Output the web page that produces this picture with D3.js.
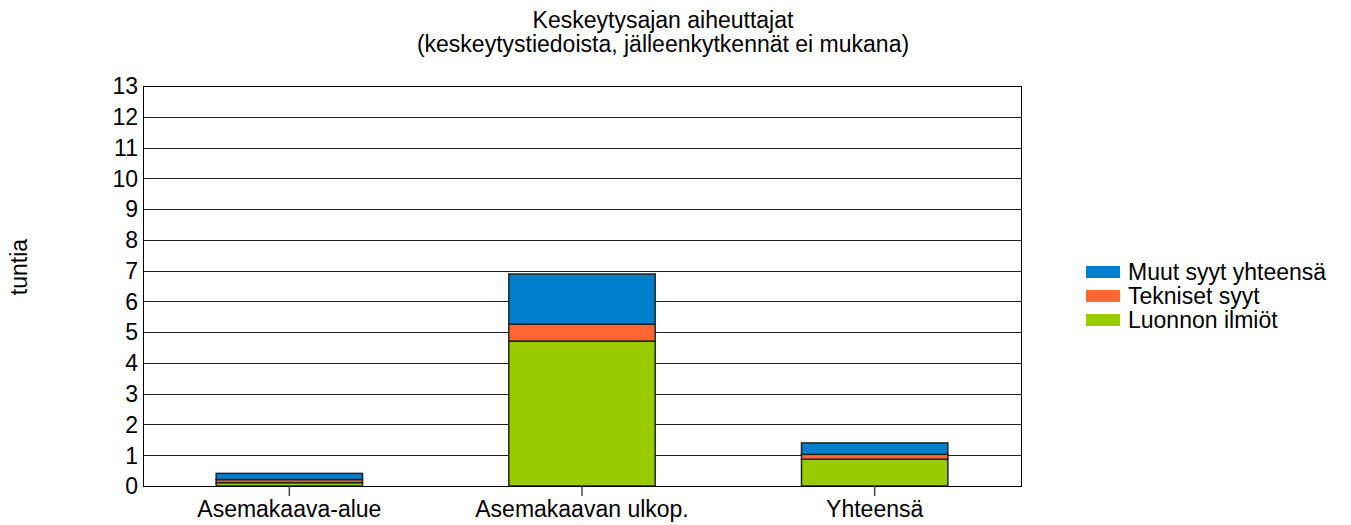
<!DOCTYPE html>
<html>
<head>
<meta charset="utf-8">
<script src="https://cdn.jsdelivr.net/npm/d3@7"></script>
<style>
  body { margin: 0; background: #fff; }
  text { font-family: "Liberation Sans", Arial, sans-serif; fill: #000; }
</style>
</head>
<body>
<div id="chart"></div>
<script>
// Chart data
var categories = ['Asemakaava-alue', 'Asemakaavan ulkop.', 'Yhteensä'];
var seriesNames = ['Luonnon ilmiöt', 'Tekniset syyt', 'Muut syyt yhteensä'];
var luonnon = [0.11, 4.71, 0.87];
var tekniset = [0.10, 0.55, 0.16];
var muut = [0.20, 1.63, 0.37];
var yTicks = d3.range(0, 14);
var seriesColors = ['#99cc00', '#ff6633', '#007fcc'];

var attrs = {
  svgWidth: 1351,
  svgHeight: 525,
  marginLeft: 143,
  marginTop: 86,
  chartWidth: 878,
  chartHeight: 400,
  fontSize: '23px'
};

var rows = categories.map(function (c, i) {
  return { cat: c, s0: luonnon[i], s1: tekniset[i], s2: muut[i] };
});

var stack = d3.stack().keys(['s0', 's1', 's2']);
var layers = stack(rows);

var x = d3.scaleBand()
  .domain(categories)
  .range([0, attrs.chartWidth])
  .paddingInner(0.5)
  .paddingOuter(0.25);

var y = d3.scaleLinear()
  .domain([0, 13])
  .range([attrs.chartHeight, 0]);

var svg = d3.select('#chart').append('svg')
  .attr('width', attrs.svgWidth)
  .attr('height', attrs.svgHeight);

// title
var title = svg.append('text')
  .attr('x', 663)
  .attr('y', 28)
  .attr('text-anchor', 'middle')
  .style('font-size', attrs.fontSize);
title.append('tspan').attr('x', 663).text('Keskeytysajan aiheuttajat');
title.append('tspan').attr('x', 663).attr('dy', 24).text('(keskeytystiedoista, jälleenkytkennät ei mukana)');

// y label
svg.append('text')
  .attr('transform', 'translate(27,267) rotate(-90)')
  .attr('text-anchor', 'middle')
  .style('font-size', attrs.fontSize)
  .text('tuntia');

var chart = svg.append('g')
  .attr('transform', 'translate(' + attrs.marginLeft + ',' + attrs.marginTop + ')');

// gridlines
chart.append('g').selectAll('line')
  .data(yTicks)
  .enter().append('line')
  .attr('x1', 0)
  .attr('x2', attrs.chartWidth)
  .attr('y1', function (d) { return Math.round(y(d)) + 0.5; })
  .attr('y2', function (d) { return Math.round(y(d)) + 0.5; })
  .attr('stroke', '#222')
  .attr('stroke-width', 1);

// y tick labels
chart.append('g').selectAll('text')
  .data(yTicks)
  .enter().append('text')
  .attr('x', -5)
  .attr('y', function (d) { return y(d); })
  .attr('dy', '0.36em')
  .attr('text-anchor', 'end')
  .style('font-size', attrs.fontSize)
  .text(function (d) { return d; });

// bars
chart.append('g').selectAll('g')
  .data(layers)
  .enter().append('g')
  .attr('fill', function (d, i) { return seriesColors[i]; })
  .selectAll('rect')
  .data(function (d) { return d; })
  .enter().append('rect')
  .attr('x', function (d) { return x(d.data.cat); })
  .attr('y', function (d) { return y(d[1]); })
  .attr('width', x.bandwidth())
  .attr('height', function (d) { return y(d[0]) - y(d[1]); })
  .attr('stroke', '#222')
  .attr('stroke-width', 1.5);

// plot border
chart.append('rect')
  .attr('x', 0.5)
  .attr('y', 0.5)
  .attr('width', attrs.chartWidth)
  .attr('height', attrs.chartHeight)
  .attr('fill', 'none')
  .attr('stroke', '#000')
  .attr('stroke-width', 1);

// x ticks and labels
var xTicks = chart.append('g')
  .attr('transform', 'translate(0,' + attrs.chartHeight + ')')
  .selectAll('g')
  .data(categories)
  .enter().append('g')
  .attr('transform', function (d) { return 'translate(' + (x(d) + x.bandwidth() / 2) + ',0)'; });

xTicks.append('line')
  .attr('y1', 0)
  .attr('y2', 10)
  .attr('stroke', '#444')
  .attr('stroke-width', 1.5);

xTicks.append('text')
  .attr('y', 31)
  .attr('text-anchor', 'middle')
  .style('font-size', attrs.fontSize)
  .text(function (d) { return d; });

// legend
var legendOrder = [2, 1, 0];
var legend = svg.append('g')
  .attr('transform', 'translate(1086,266)');

var items = legend.selectAll('g')
  .data(legendOrder)
  .enter().append('g')
  .attr('transform', function (d, i) { return 'translate(0,' + (i * 24) + ')'; });

items.append('rect')
  .attr('width', 34)
  .attr('height', 12)
  .attr('fill', function (d) { return seriesColors[d]; });

items.append('text')
  .attr('x', 42)
  .attr('y', 6)
  .attr('dy', '0.36em')
  .style('font-size', attrs.fontSize)
  .text(function (d) { return seriesNames[d]; });
</script>
</body>
</html>
